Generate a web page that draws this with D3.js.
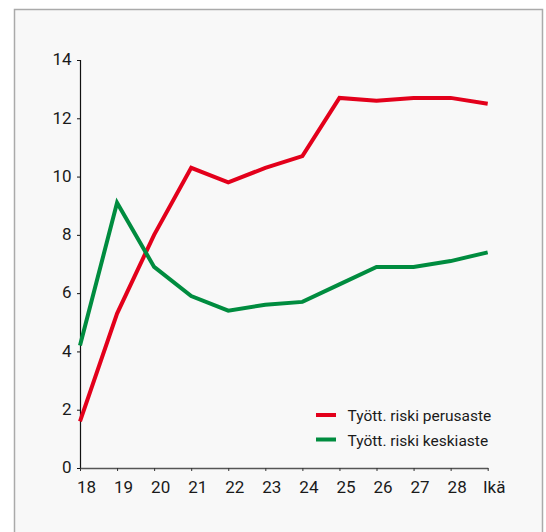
<!DOCTYPE html>
<html>
<head>
<meta charset="utf-8">
<script src="https://cdn.jsdelivr.net/npm/d3@7"></script>
<style>
  html, body { margin: 0; padding: 0; background: #ffffff; }
  svg { display: block; }
  text { font-family: Roboto, "Open Sans", sans-serif; fill: #1a1a1a; }
</style>
</head>
<body>
<svg id="chart" width="546" height="532"></svg>
<script>
const categories = ["18","19","20","21","22","23","24","25","26","27","28","Ikä"];
const perusaste  = [1.6, 5.3, 8.0, 10.3, 9.8, 10.3, 10.7, 12.7, 12.6, 12.7, 12.7, 12.5];
const keskiaste  = [4.2, 9.1, 6.9, 5.9, 5.4, 5.6, 5.7, 6.3, 6.9, 6.9, 7.1, 7.4];
const yTicks     = [0, 2, 4, 6, 8, 10, 12, 14];
const seriesNames = ["Tyött. riski perusaste", "Tyött. riski keskiaste"];
const seriesColors = ["#e3001b", "#008c3f"];

const svg = d3.select("#chart");

// panel background and frame
svg.append("rect").attr("x", 14.5).attr("y", 9.5).attr("width", 528).attr("height", 540)
  .attr("fill", "#f8f8f8").attr("stroke", "#aaaaaa").attr("stroke-width", 1.5);

const x = d3.scalePoint().domain(categories).range([80, 487.7]);
const y = d3.scaleLinear().domain([0, 14]).range([468, 60]);

// y axis
const yAxis = svg.append("g").attr("transform", "translate(80,0)")
  .call(d3.axisLeft(y).tickValues(yTicks).tickSize(3).tickPadding(5).tickFormat(d3.format("d")));
yAxis.select(".domain").attr("stroke", "#111").attr("stroke-width", 1.2);
yAxis.selectAll(".tick line").attr("stroke", "#111");
yAxis.selectAll("text").style("font-size", "17px").attr("dy", "0.28em").attr("x", -8.5);

// x axis
const xAxis = svg.append("g").attr("transform", "translate(0,468)")
  .call(d3.axisBottom(x).tickSize(3).tickPadding(6).tickSizeOuter(0));
xAxis.select(".domain").attr("stroke", "#555").attr("stroke-width", 1.5);
xAxis.selectAll(".tick line").attr("stroke", "#333");
xAxis.selectAll("text").style("font-size", "17px").attr("dx", "6").attr("dy", "0.95em");

// lines
const line = d3.line().x((d, i) => x(categories[i])).y(d => y(d));
[perusaste, keskiaste].forEach((s, k) => {
  svg.append("path").datum(s).attr("d", line)
    .attr("fill", "none").attr("stroke", seriesColors[k]).attr("stroke-width", 4)
    .attr("stroke-linejoin", "miter").attr("stroke-miterlimit", 3);
});

// legend
const legend = svg.append("g");
seriesNames.forEach((n, k) => {
  const ly = 415 + k * 24.5;
  legend.append("line").attr("x1", 316).attr("x2", 336).attr("y1", ly).attr("y2", ly)
    .attr("stroke", seriesColors[k]).attr("stroke-width", 4);
  legend.append("text").attr("x", 347.5).attr("y", ly + 6).text(n)
    .style("font-size", "15.5px");
});
</script>
</body>
</html>
